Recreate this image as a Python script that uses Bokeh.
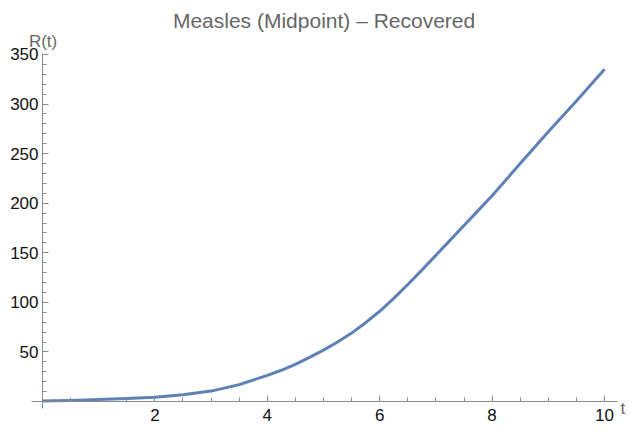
from bokeh.plotting import figure
from bokeh.models import FixedTicker, Label, Range1d, LinearAxis
from bokeh.embed import file_html
from bokeh.resources import INLINE

# Data
t_values = [0, 0.5, 1, 1.5, 2, 2.5, 3, 3.5, 4, 4.25, 4.5, 4.75, 5, 5.25, 5.5, 5.75, 6,
            6.25, 6.5, 6.75, 7, 7.25, 7.5, 7.75, 8, 8.5, 9, 9.5, 10]
r_values = [0.5, 1.1, 1.9, 2.9, 4.3, 6.8, 10.5, 17, 26.3, 31.5, 37.5, 44.5, 51.8, 60, 69, 79.5, 91,
            104, 118, 132.5, 147.5, 162.5, 177.5, 192.5, 207.5, 240, 272, 303, 335]

x_major = [0, 2, 4, 6, 8, 10]
x_minor = [0.5, 1, 1.5, 2.5, 3, 3.5, 4.5, 5, 5.5, 6.5, 7, 7.5, 8.5, 9, 9.5]
y_major = [0, 50, 100, 150, 200, 250, 300, 350]
y_minor = [v for v in range(10, 350, 10) if v % 50 != 0]

title_text = "Measles (Midpoint) \u2013 Recovered"
y_label = "R(t)"
x_label = "t"

FONT = "Liberation Sans"
AXIS_COLOR = "#8a8a8a"
TEXT_GRAY = "#666666"

p = figure(width=628, height=425, output_backend="svg", toolbar_location=None,
           x_range=Range1d(-0.7473, 10.427), y_range=Range1d(-24.21, 404.46),
           min_border_left=0, min_border_right=0, min_border_top=0, min_border_bottom=0,
           x_axis_location=None, y_axis_location=None)
p.outline_line_color = None
p.xgrid.visible = False
p.ygrid.visible = False

xaxis = LinearAxis(fixed_location=0, bounds=(-0.196, 10.231))
yaxis = LinearAxis(fixed_location=0, bounds=(-7, 351))
p.add_layout(xaxis, "below")
p.add_layout(yaxis, "left")

for ax, major, minor in ((xaxis, x_major, x_minor), (yaxis, y_major, y_minor)):
    ax.ticker = FixedTicker(ticks=major, minor_ticks=minor)
    ax.axis_line_color = AXIS_COLOR
    ax.major_tick_line_color = AXIS_COLOR
    ax.minor_tick_line_color = AXIS_COLOR
    ax.major_tick_in = 6
    ax.major_tick_out = 0
    ax.minor_tick_in = 4
    ax.minor_tick_out = 0
    ax.major_label_text_font = FONT
    ax.major_label_text_font_size = "17px"
    ax.major_label_text_color = "#111111"
    ax.major_label_overrides = {0: ""}

xaxis.major_label_standoff = 8
yaxis.major_label_standoff = 4

p.line(t_values, r_values, line_color="#5E81B5", line_width=3, line_join="round")

p.add_layout(Label(x=5.01, y=384.3, text=title_text, text_align="center", text_baseline="alphabetic",
                   text_font=FONT, text_font_size="21px", text_color=TEXT_GRAY))
p.add_layout(Label(x=-0.242, y=363.1, text=y_label, text_align="left", text_baseline="alphabetic",
                   text_font=FONT, text_font_size="17px", text_color=TEXT_GRAY))
p.add_layout(Label(x=10.285, y=-7.06, text=x_label, text_align="left", text_baseline="alphabetic",
                   text_font=FONT, text_font_size="17px", text_color=TEXT_GRAY))

open("out.html", "w").write(file_html(p, INLINE))
